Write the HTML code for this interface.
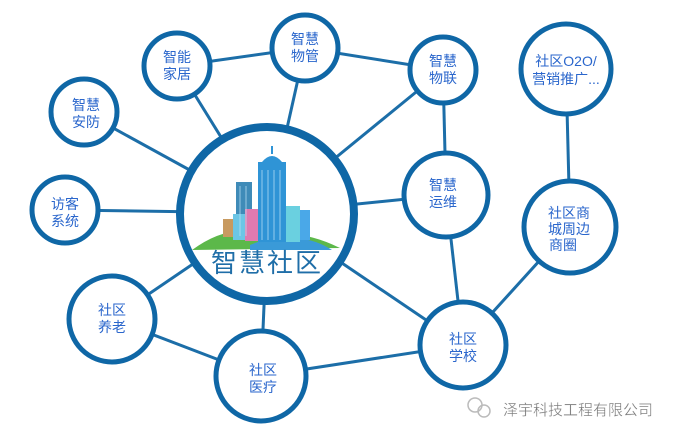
<!DOCTYPE html>
<html><head><meta charset="utf-8"><style>
html,body{margin:0;padding:0;background:#fff;width:679px;height:441px;overflow:hidden}
svg{display:block}
.t{font-family:"Liberation Sans","Noto Sans CJK SC",sans-serif;font-size:14px;fill:#2a66cc;text-anchor:middle}
</style></head><body>
<svg width="679" height="441" viewBox="0 0 679 441" xmlns="http://www.w3.org/2000/svg">
<g stroke="#1c6ea8" stroke-width="3" fill="none">
<line x1="177" y1="66" x2="305" y2="48"/>
<line x1="305" y1="48" x2="443" y2="70"/>
<line x1="177" y1="66" x2="268" y2="213"/>
<line x1="305" y1="48" x2="268" y2="213"/>
<line x1="443" y1="70" x2="268" y2="213"/>
<line x1="84" y1="112" x2="268" y2="213"/>
<line x1="65" y1="210" x2="268" y2="213"/>
<line x1="446" y1="195" x2="268" y2="213"/>
<line x1="443" y1="70" x2="446" y2="195"/>
<line x1="112" y1="319" x2="268" y2="213"/>
<line x1="261" y1="376" x2="268" y2="213"/>
<line x1="463" y1="345" x2="268" y2="213"/>
<line x1="112" y1="319" x2="261" y2="376"/>
<line x1="261" y1="376" x2="463" y2="345"/>
<line x1="446" y1="195" x2="463" y2="345"/>
<line x1="463" y1="345" x2="570" y2="227"/>
<line x1="566" y1="69" x2="570" y2="227"/>
</g>
<g stroke="#0f67a6" stroke-width="5" fill="#fff">
<circle cx="177" cy="66" r="33"/>
<circle cx="305" cy="48" r="33"/>
<circle cx="443" cy="70" r="33"/>
<circle cx="566" cy="69" r="45"/>
<circle cx="84" cy="112" r="33"/>
<circle cx="65" cy="210" r="33"/>
<circle cx="446" cy="195" r="42"/>
<circle cx="570" cy="227" r="46"/>
<circle cx="112" cy="319" r="43"/>
<circle cx="261" cy="376" r="45"/>
<circle cx="463" cy="345" r="43"/>
</g>
<circle cx="267" cy="214" r="87" stroke="#0f67a6" stroke-width="8" fill="#fff"/>
<!-- buildings -->
<path d="M192 250 Q230 222 262 236 Q300 228 340 248 Z" fill="#5cb84a"/>
<path d="M250 245 Q270 236 290 240 Q310 236 332 250 L250 250Z" fill="#3a9ad8"/>
<rect x="223" y="219" width="10" height="18" fill="#c89a60"/>
<rect x="236" y="182" width="16" height="55" fill="#3f8bb8"/>
<rect x="233" y="214" width="14" height="26" fill="#6cc6e6"/>
<rect x="245" y="209" width="13" height="32" fill="#e07ab0"/>
<rect x="258" y="162" width="28" height="80" fill="#2f94d6"/>
<path d="M262 162 Q272 150 282 162Z" fill="#2f94d6"/>
<line x1="272" y1="146" x2="272" y2="154" stroke="#2f94d6" stroke-width="2"/>
<rect x="286" y="206" width="14" height="36" fill="#6ad0e0"/>
<rect x="300" y="210" width="10" height="30" fill="#4aa8e8"/>
<g stroke="#bfe4f8" stroke-width="1" opacity="0.7">
<line x1="262" y1="170" x2="262" y2="240"/><line x1="268" y1="170" x2="268" y2="240"/><line x1="274" y1="170" x2="274" y2="240"/><line x1="280" y1="170" x2="280" y2="240"/>
<line x1="240" y1="186" x2="240" y2="236"/><line x1="246" y1="186" x2="246" y2="236"/>
</g>
<text x="267" y="272" font-family="Liberation Sans,Noto Sans CJK SC,sans-serif" font-size="26" fill="#1f6ea8" text-anchor="middle" letter-spacing="2">智慧社区</text>
<g class="t">
<text class="t" x="177" y="62">智能</text><text class="t" x="177" y="79">家居</text>
<text class="t" x="305" y="44">智慧</text><text class="t" x="305" y="61">物管</text>
<text class="t" x="443" y="66">智慧</text><text class="t" x="443" y="83">物联</text>
<text class="t" x="566" y="66">社区O2O/</text><text class="t" x="566" y="84">营销推广...</text>
<text class="t" x="86" y="110">智慧</text><text class="t" x="86" y="127">安防</text>
<text class="t" x="65" y="209">访客</text><text class="t" x="65" y="226">系统</text>
<text class="t" x="443" y="190">智慧</text><text class="t" x="443" y="207">运维</text>
<text class="t" x="569" y="218">社区商</text><text class="t" x="569" y="234">城周边</text><text class="t" x="563" y="250">商圈</text>
<text class="t" x="112" y="315">社区</text><text class="t" x="112" y="332">养老</text>
<text class="t" x="263" y="375">社区</text><text class="t" x="263" y="392">医疗</text>
<text class="t" x="463" y="344">社区</text><text class="t" x="463" y="361">学校</text>
</g>
<circle cx="475" cy="405" r="7" fill="none" stroke="#bbb" stroke-width="1.5"/>
<circle cx="484" cy="411" r="6" fill="none" stroke="#bbb" stroke-width="1.5"/>
<text x="578" y="415" font-family="Liberation Sans,Noto Sans CJK SC,sans-serif" font-size="15" fill="#777" stroke="#fff" stroke-width="0.3" text-anchor="middle">泽宇科技工程有限公司</text>
</svg>
</body></html>
